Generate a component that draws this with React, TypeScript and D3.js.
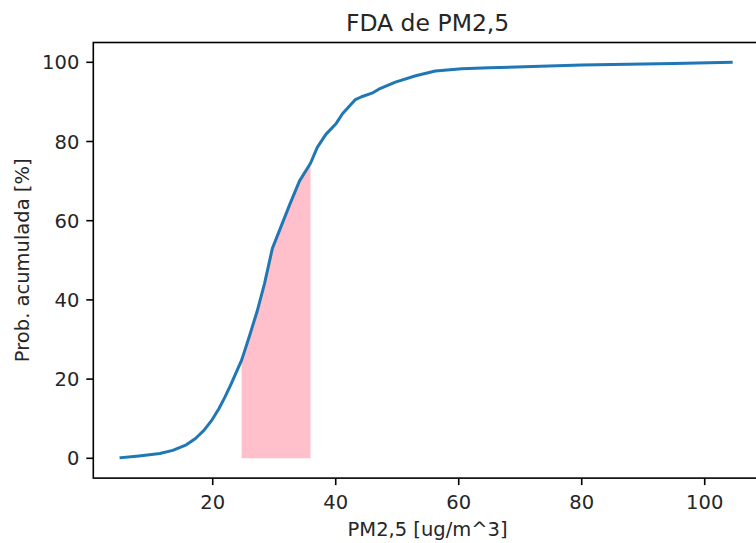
import React from "react";
import * as d3 from "d3";

const pmValues = [5.1, 8.0, 11.4, 13.5, 15.7, 17.2, 18.6, 19.8, 21.0, 22.0, 23.0, 24.7, 26.0, 27.2, 28.4, 29.7, 31.1, 32.5, 34.1, 35.9, 37.0, 38.4, 40.0, 41.1, 43.2, 44.2, 45.9, 47.0, 49.7, 53.0, 56.2, 60.5, 65.0, 80.0, 95.0, 104.3];
const cumProb = [0.15, 0.6, 1.2, 2.0, 3.4, 5.0, 7.1, 9.5, 12.5, 15.5, 18.8, 24.8, 31.0, 37.0, 44.0, 53.0, 58.5, 64.0, 70.0, 74.5, 78.5, 81.8, 84.4, 87.0, 90.6, 91.3, 92.2, 93.2, 95.0, 96.6, 97.8, 98.4, 98.6, 99.3, 99.7, 100.0];
const fillStart = 24.7;
const fillEnd = 35.9;
const xTicks = [20, 40, 60, 80, 100];
const yTicks = [0, 20, 40, 60, 80, 100];
const titleText = "FDA de PM2,5";
const xLabelText = "PM2,5 [ug/m^3]";
const yLabelText = "Prob. acumulada [%]";

export default function App() {
  const W = 756, H = 543;
  const left = 93.3, right = 761.9, top = 42.5, bottom = 478.1;
  const font = "'DejaVu Sans', sans-serif";
  const fs = 19.5;
  const x = d3.scaleLinear().domain([0.58, 109.3]).range([left, right]);
  const y = d3.scaleLinear().domain([-5, 105]).range([bottom, top]);
  const pts: [number, number][] = pmValues.map((v, i) => [v, cumProb[i]]);
  const line = d3.line<[number, number]>().x(d => x(d[0])).y(d => y(d[1]));
  const fillPts = pts.filter(d => d[0] >= fillStart && d[0] <= fillEnd);
  const area = d3.area<[number, number]>().x(d => x(d[0])).y0(y(0)).y1(d => y(d[1]));
  const tickLen = 7;
  return (
    <svg width={W} height={H} style={{ position: "fixed", left: 0, top: 0, background: "#fff" }} fontFamily={font}>
      <rect x={0} y={0} width={W} height={H} fill="#fff" />
      <path d={area(fillPts) || ""} fill="pink" stroke="none" />
      <path d={line(pts) || ""} fill="none" stroke="#1f77b4" strokeWidth={3} strokeLinejoin="round" strokeLinecap="square" />
      <rect x={left} y={top} width={right - left} height={bottom - top} fill="none" stroke="#000" strokeWidth={1.6} />
      {xTicks.map(t => (
        <g key={"x" + t}>
          <line x1={x(t)} x2={x(t)} y1={bottom} y2={bottom + tickLen} stroke="#000" strokeWidth={1.6} />
          <text x={x(t)} y={509} textAnchor="middle" fontSize={fs} fill="#262626">{t}</text>
        </g>
      ))}
      {yTicks.map(t => (
        <g key={"y" + t}>
          <line x1={left - tickLen} x2={left} y1={y(t)} y2={y(t)} stroke="#000" strokeWidth={1.6} />
          <text x={left - tickLen - 7} y={y(t) + 7} textAnchor="end" fontSize={fs} fill="#262626">{t}</text>
        </g>
      ))}
      <text x={(left + right) / 2} y={31} textAnchor="middle" fontSize={23.5} fill="#262626">{titleText}</text>
      <text x={(left + right) / 2} y={536} textAnchor="middle" fontSize={fs} fill="#262626">{xLabelText}</text>
      <text transform={`translate(28.5, ${(top + bottom) / 2}) rotate(-90)`} textAnchor="middle" fontSize={fs} fill="#262626">{yLabelText}</text>
    </svg>
  );
}
